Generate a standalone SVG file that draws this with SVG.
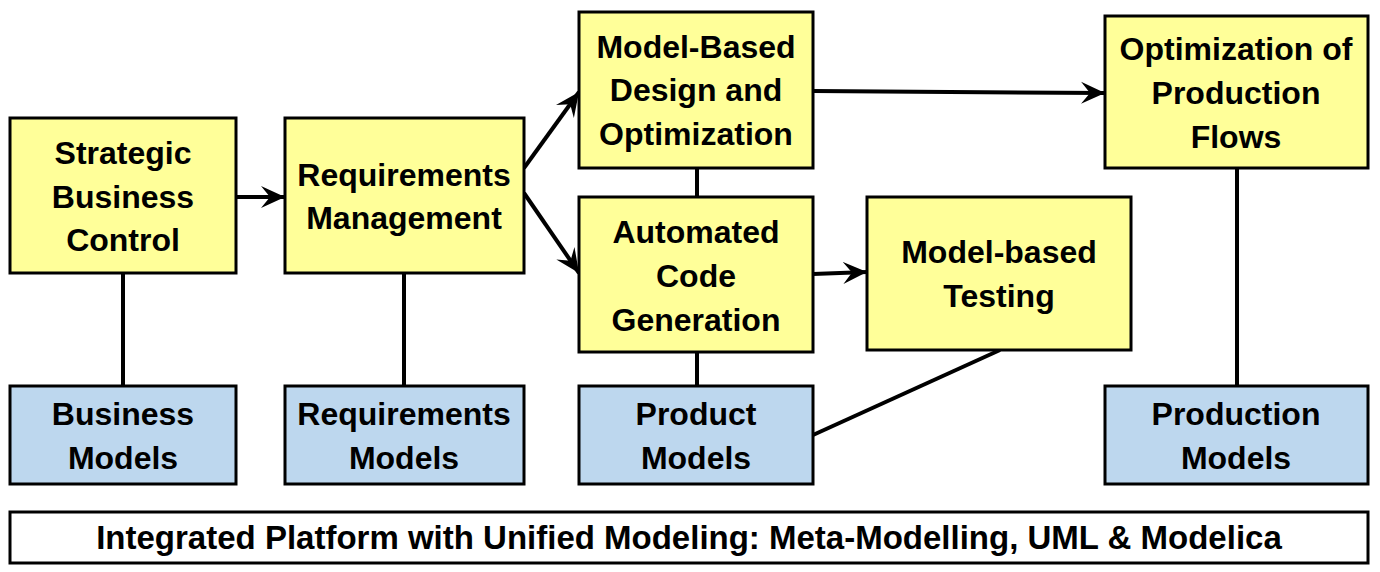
<svg xmlns="http://www.w3.org/2000/svg" width="1380" height="572" viewBox="0 0 1380 572">
<style>
  .y { fill: #FFFF99; stroke: #000; stroke-width: 3; }
  .b { fill: #BDD7EE; stroke: #000; stroke-width: 3; }
  .w { fill: #FFFFFF; stroke: #000; stroke-width: 3; }
  text { font-family: "Liberation Sans", Arial, sans-serif; font-weight: bold; font-size: 32px; fill: #000; text-anchor: middle; }
  .c { stroke: #000; stroke-width: 4; fill: none; }
</style>
<defs>
  <marker id="ah" markerUnits="userSpaceOnUse" markerWidth="26" markerHeight="24" viewBox="0 -12 26 24" refX="24" refY="0" orient="auto">
    <path d="M0,-11 L24,0 L0,11 L9,0 z" fill="#000"/>
  </marker>
</defs>
<rect width="1380" height="572" fill="#fff"/>
<g id="connectors">
  <line class="c" x1="236" y1="197" x2="285" y2="197" marker-end="url(#ah)"/>
  <line class="c" x1="524" y1="168" x2="579" y2="92" marker-end="url(#ah)"/>
  <line class="c" x1="524" y1="193" x2="579" y2="273" marker-end="url(#ah)"/>
  <line class="c" x1="813" y1="91" x2="1105" y2="93" marker-end="url(#ah)"/>
  <line class="c" x1="813" y1="274" x2="867" y2="272" marker-end="url(#ah)"/>
  <line class="c" x1="697" y1="168" x2="697" y2="197"/>
  <line class="c" x1="697" y1="352" x2="697" y2="386"/>
  <line class="c" x1="123" y1="273" x2="123" y2="386"/>
  <line class="c" x1="404" y1="273" x2="404" y2="386"/>
  <line class="c" x1="1237" y1="168" x2="1237" y2="386"/>
  <line class="c" x1="813" y1="435" x2="1000" y2="350"/>
</g>
<g id="strategic-business-control">
  <rect class="y" x="10" y="118" width="226" height="155"/>
  <text x="123" y="164">Strategic</text>
  <text x="123" y="208">Business</text>
  <text x="123" y="251">Control</text>
</g>
<g id="requirements-management">
  <rect class="y" x="285" y="118" width="239" height="155"/>
  <text x="404" y="186">Requirements</text>
  <text x="404" y="229">Management</text>
</g>
<g id="model-based-design">
  <rect class="y" x="579" y="12" width="234" height="156"/>
  <text x="696" y="58">Model-Based</text>
  <text x="696" y="101">Design and</text>
  <text x="696" y="145">Optimization</text>
</g>
<g id="automated-code-generation">
  <rect class="y" x="579" y="197" width="234" height="155"/>
  <text x="696" y="243">Automated</text>
  <text x="696" y="287">Code</text>
  <text x="696" y="331">Generation</text>
</g>
<g id="model-based-testing">
  <rect class="y" x="867" y="197" width="264" height="153"/>
  <text x="999" y="263">Model-based</text>
  <text x="999" y="307">Testing</text>
</g>
<g id="optimization-production-flows">
  <rect class="y" x="1105" y="16" width="263" height="152"/>
  <text x="1236" y="60">Optimization of</text>
  <text x="1236" y="104">Production</text>
  <text x="1236" y="148">Flows</text>
</g>
<g id="business-models">
  <rect class="b" x="10" y="386" width="226" height="98"/>
  <text x="123" y="425">Business</text>
  <text x="123" y="469">Models</text>
</g>
<g id="requirements-models">
  <rect class="b" x="285" y="386" width="239" height="98"/>
  <text x="404" y="425">Requirements</text>
  <text x="404" y="469">Models</text>
</g>
<g id="product-models">
  <rect class="b" x="579" y="386" width="234" height="98"/>
  <text x="696" y="425">Product</text>
  <text x="696" y="469">Models</text>
</g>
<g id="production-models">
  <rect class="b" x="1105" y="386" width="263" height="98"/>
  <text x="1236" y="425">Production</text>
  <text x="1236" y="469">Models</text>
</g>
<g id="integrated-platform">
  <rect class="w" x="10" y="512" width="1358" height="51"/>
  <text x="689" y="549" style="font-size:33px">Integrated Platform with Unified Modeling: Meta-Modelling, UML &amp; Modelica</text>
</g>
</svg>
